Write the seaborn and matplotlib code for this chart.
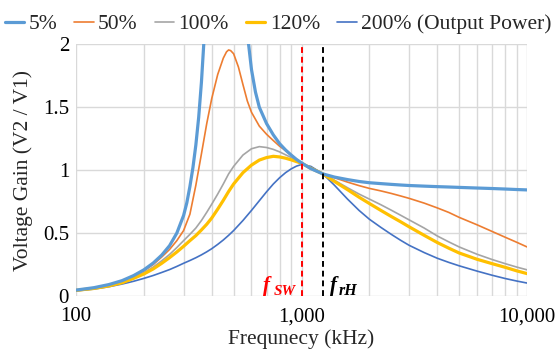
import matplotlib
matplotlib.use("Agg")
import matplotlib.pyplot as plt
import seaborn as sns
import pandas as pd
from matplotlib.ticker import FixedLocator, FuncFormatter

# ---- data ----
freq_5 = [100, 120, 140, 160, 180, 200, 220, 240, 260, 280, 300, 310, 320, 330, 340, 350, 360, 370,
          380, 400, 450, 500, 540, 560, 580, 600, 625, 650, 700, 750, 800, 850, 900, 950, 1000,
          1100, 1245, 1400, 1600, 1800, 2000, 2250, 2500, 2750, 3000, 3500, 4000, 4500, 5000,
          6000, 7000, 8000, 9000, 10000]
gain_5 = [0.047, 0.066, 0.091, 0.122, 0.162, 0.208, 0.262, 0.325, 0.4, 0.5, 0.64, 0.74, 0.87, 1.02,
          1.2, 1.42, 1.7, 2.05, 2.5, 4.0, 8.0, 5.0, 3.0, 2.4, 2.03, 1.8, 1.62, 1.5, 1.37, 1.28, 1.21,
          1.16, 1.12, 1.085, 1.058, 1.012, 0.97, 0.945, 0.925, 0.91, 0.9, 0.893, 0.887, 0.882,
          0.878, 0.873, 0.869, 0.866, 0.863, 0.858, 0.854, 0.85, 0.846, 0.843]

freq_50 = [100, 120, 140, 160, 180, 200, 220, 240, 260, 280, 300, 320, 340, 360, 380, 400, 425, 450,
           465, 475, 485, 500, 525, 550, 575, 600, 650, 700, 750, 800, 850, 900, 950, 1000, 1100,
           1245, 1400, 1600, 1800, 2000, 2250, 2500, 2750, 3000, 3500, 4000, 4500, 5000, 6000,
           7000, 8000, 9000, 10000]
gain_50 = [0.047, 0.064, 0.087, 0.115, 0.155, 0.2, 0.25, 0.31, 0.37, 0.44, 0.52, 0.65, 0.88, 1.13,
           1.37, 1.57, 1.76, 1.89, 1.94, 1.955, 1.95, 1.925, 1.82, 1.68, 1.55, 1.46, 1.35, 1.285,
           1.235, 1.19, 1.155, 1.12, 1.087, 1.055, 1.015, 0.97, 0.94, 0.905, 0.877, 0.855, 0.835,
           0.815, 0.795, 0.776, 0.738, 0.7, 0.664, 0.625, 0.566, 0.513, 0.467, 0.427, 0.39]

freq_std = [100, 120, 140, 160, 180, 200, 220, 240, 260, 280, 300, 320, 340, 360, 380, 400, 425, 450,
            475, 500, 550, 600, 650, 700, 750, 800, 850, 900, 950, 1000, 1100, 1245, 1400, 1600,
            1800, 2000, 2250, 2500, 2750, 3000, 3500, 4000, 4500, 5000, 6000, 7000, 8000, 9000, 10000]
gain_100 = [0.046, 0.062, 0.083, 0.11, 0.145, 0.185, 0.23, 0.28, 0.33, 0.385, 0.44, 0.49, 0.54, 0.6,
            0.665, 0.73, 0.81, 0.89, 0.97, 1.03, 1.12, 1.17, 1.187, 1.18, 1.165, 1.145, 1.122, 1.1,
            1.077, 1.055, 1.015, 0.97, 0.92, 0.86, 0.81, 0.77, 0.725, 0.682, 0.642, 0.605, 0.54,
            0.477, 0.43, 0.39, 0.332, 0.29, 0.257, 0.23, 0.208]
gain_120 = [0.045, 0.06, 0.08, 0.105, 0.14, 0.175, 0.215, 0.26, 0.305, 0.35, 0.395, 0.44, 0.48, 0.525,
            0.57, 0.62, 0.69, 0.76, 0.83, 0.89, 0.98, 1.04, 1.08, 1.1, 1.11, 1.105, 1.095, 1.082,
            1.068, 1.055, 1.015, 0.97, 0.91, 0.845, 0.785, 0.735, 0.68, 0.632, 0.59, 0.55, 0.482,
            0.425, 0.38, 0.342, 0.292, 0.257, 0.228, 0.2, 0.178]
gain_200 = [0.04, 0.055, 0.074, 0.095, 0.117, 0.14, 0.163, 0.187, 0.21, 0.235, 0.26, 0.282, 0.304,
            0.327, 0.351, 0.376, 0.41, 0.445, 0.482, 0.52, 0.6, 0.68, 0.757, 0.828, 0.89, 0.94,
            0.98, 1.01, 1.032, 1.045, 1.03, 0.97, 0.88, 0.77, 0.68, 0.61, 0.545, 0.49, 0.443, 0.403,
            0.345, 0.3, 0.267, 0.24, 0.198, 0.165, 0.139, 0.119, 0.103]

labels = ["5%", "50%", "100%", "120%", "200% (Output Power)"]
colors = ["#5B9BD5", "#ED7D31", "#A5A5A5", "#FFC000", "#4472C4"]
widths = [2.3, 1.2, 1.2, 2.3, 1.2]

f_sw = 1000
f_rH = 1245
xticks = [100, 1000, 10000]
yticks = [0, 0.5, 1, 1.5, 2]
ytick_labels = ["0", "0.5", "1", "1.5", "2"]

# ---- figure ----
sns.set_theme(style="white")
plt.rcParams["font.family"] = ["Liberation Serif", "DejaVu Serif"]

fig = plt.figure(figsize=(5.56, 3.6), dpi=100)
ax = fig.add_axes([76 / 556, 1 - 296 / 360, (527 - 76) / 556, (296 - 44.3) / 360])
ax.set_xscale("log")
ax.set_xlim(100, 10000)
ax.set_ylim(0, 2)

# grid
gridc = "#D9D9D9"
vlines = [m * 10 ** e for e in (2, 3) for m in range(1, 10)] + [10000]
for v in vlines:
    ax.axvline(v, color=gridc, lw=1.0, zorder=0)
for h in yticks:
    ax.axhline(h, color=gridc, lw=1.0, zorder=0)

series = [(freq_5, gain_5), (freq_50, gain_50), (freq_std, gain_100),
          (freq_std, gain_120), (freq_std, gain_200)]
order = [4, 2, 1, 3, 0]
handles = {}
for i in order:
    fx, gy = series[i]
    df = pd.DataFrame({"f": fx, "g": gy})
    sns.lineplot(data=df, x="f", y="g", ax=ax, color=colors[i], lw=widths[i],
                 sort=True, estimator=None, zorder=3 + (1 if i in (0, 3) else 0))
    handles[i] = ax.lines[-1]

ax.axvline(f_sw, color="#FF0000", lw=1.4, ls=(0, (3, 2)), zorder=5)
ax.axvline(f_rH, color="black", lw=1.4, ls=(0, (3, 2)), zorder=5)

for s in ax.spines.values():
    s.set_visible(False)

ax.xaxis.set_major_locator(FixedLocator(xticks))
ax.xaxis.set_minor_locator(FixedLocator([]))
ax.xaxis.set_major_formatter(FuncFormatter(lambda v, p: f"{int(v):,}"))
ax.set_yticks(yticks)
ax.set_yticklabels(ytick_labels)
ax.tick_params(axis="both", length=0, labelsize=15, colors="black")
ax.tick_params(axis="x", pad=8)
ax.tick_params(axis="y", pad=5)
ax.set_xlabel("Frequnecy (kHz)", fontsize=15.5, labelpad=2)
ax.set_ylabel("Voltage Gain (V2 / V1)", fontsize=15.5, labelpad=7)

# annotations
tf = dict(family="Liberation Serif", style="italic", weight="bold")
ax.text(675, 0.04, "f", color="#FF0000", fontsize=15, ha="left", va="baseline", **tf)
ax.text(750, 0.01, "SW", color="#FF0000", fontsize=11, ha="left", va="baseline", **tf)
ax.text(1338, 0.04, "f", color="black", fontsize=15, ha="left", va="baseline", **tf)
ax.text(1467, 0.01, "rH", color="black", fontsize=11.5, ha="left", va="baseline", **tf)

fig.legend([handles[i] for i in range(5)], labels, loc="upper center",
           bbox_to_anchor=(0.5, 1.015), ncol=5, frameon=False, fontsize=15.5,
           handlelength=0.9, handletextpad=0.2, columnspacing=0.8)

fig.savefig("out.png", dpi=100)
